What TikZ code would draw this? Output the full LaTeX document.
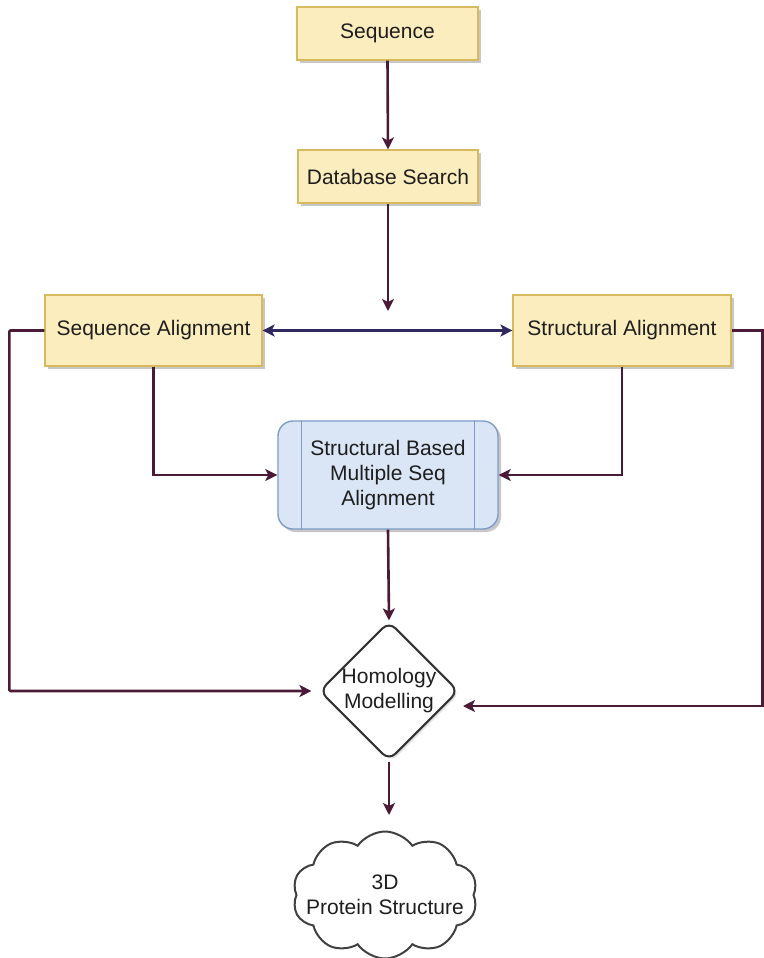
\documentclass[tikz,border=0pt]{standalone}
\usepackage{fontspec}
\setmainfont{Liberation Sans}
\usetikzlibrary{arrows.meta,shapes.geometric,shapes.symbols,shadows}
\definecolor{boxfill}{HTML}{FBEDBE}
\definecolor{boxline}{HTML}{D8B95E}
\definecolor{msafill}{HTML}{DAE5F5}
\definecolor{msaline}{HTML}{7D9CC8}
\definecolor{flow}{HTML}{4B1A36}
\definecolor{swap}{HTML}{2E2A60}
\definecolor{txt}{HTML}{1E1E1E}
\begin{document}
\begin{tikzpicture}[x=1pt,y=-1pt,
  font=\fontsize{21}{25}\selectfont, text=txt,
  shade/.style={drop shadow={shadow xshift=3pt,shadow yshift=-3pt,fill=black,opacity=0.22}},
  stepbox/.style={draw=boxline, line width=1.2pt, fill=boxfill, shade, align=center, inner sep=0pt},
  arr/.style={draw=flow, line width=2.6pt, -{Stealth[length=12pt,width=12pt,inset=3pt]}},
  biarr/.style={draw=swap, line width=2.2pt, {Stealth[length=12pt,width=12pt,inset=3pt]}-{Stealth[length=12pt,width=12pt,inset=3pt]}}
]
\useasboundingbox (0,0) rectangle (763,958);

% process boxes
\node[stepbox, minimum width=181pt, minimum height=53pt] (seq) at (387.5,33.5) {Sequence};
\node[stepbox, minimum width=180pt, minimum height=53pt] (db) at (388,176.5) {Database Search};
\node[stepbox, minimum width=217pt, minimum height=71pt] (salign) at (153.5,330.5) {Sequence Alignment};
\node[stepbox, minimum width=218pt, minimum height=71pt] (stalign) at (622,330.5) {Structural Alignment};

% predefined-process box
\node[draw=msaline, line width=1.4pt, fill=msafill, rounded corners=15pt, shade,
      minimum width=220pt, minimum height=108pt, align=center, inner sep=0pt] (msa) at (388,475)
      {Structural Based\\Multiple Seq\\Alignment};
\draw[msaline, line width=1.4pt] ([xshift=24pt]msa.north west) -- ([xshift=24pt]msa.south west);
\draw[msaline, line width=1.4pt] ([xshift=-24pt]msa.north east) -- ([xshift=-24pt]msa.south east);

% decision
\node[diamond, draw=black!80, line width=2pt, fill=white, rounded corners=9pt,
      minimum width=134pt, minimum height=132pt, inner sep=0pt, align=center,
      drop shadow={shadow xshift=2pt,shadow yshift=-2pt,fill=black,opacity=0.12}] (homol) at (389,691)
      {Homology\\Modelling};

% result
\node[cloud, cloud puffs=10, cloud puff arc=110, aspect=1.5, draw=black!75, line width=2pt,
      fill=white, minimum width=185pt, minimum height=127pt, inner xsep=-45pt, inner ysep=-12pt,
      align=center] (res) at (385,895)
      {3D\\Protein Structure};

% free ends
\coordinate (dbend) at (388,311);
\coordinate (hin) at (463,706);

% connectors
\draw[arr] (seq.south) -- (db.north);
\draw[arr] (db.south) -- (dbend);
\draw[biarr] (salign.east) -- (stalign.west);
\draw[arr] (salign.south) |- (msa.west);
\draw[arr] (stalign.south) |- (msa.east);
\draw[arr] (msa.south) -- (homol.north);
\draw[arr, rounded corners=1pt, shorten >=7pt] (salign.west) -- ++(-35,0) |- (homol.west);
\draw[arr] (stalign.east) -- ++(31,0) |- (hin);
\draw[arr] (homol.south) -- (homol.south |- 0,815);
\end{tikzpicture}
\end{document}
